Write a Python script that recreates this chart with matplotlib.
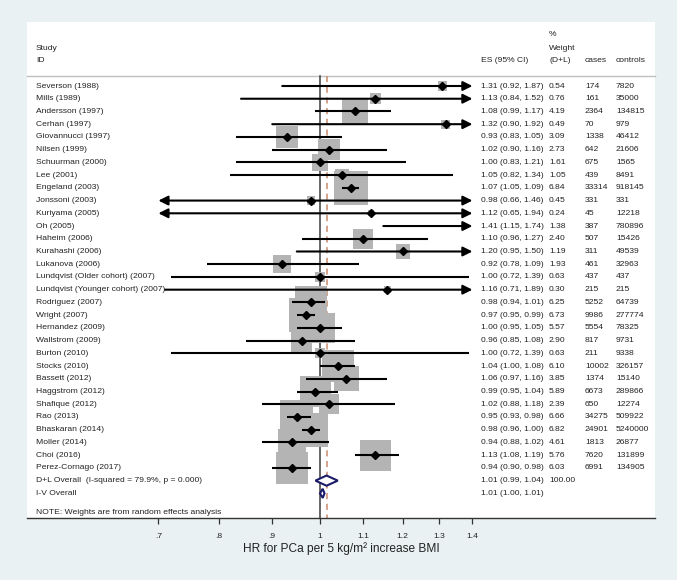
import numpy as np
import matplotlib
matplotlib.use("Agg")
import matplotlib.pyplot as plt
import matplotlib.transforms as mtransforms

# ---------------- data ----------------
studies = ["Severson (1988)", "Mills (1989)", "Andersson (1997)", "Cerhan (1997)",
           "Giovannucci (1997)", "Nilsen (1999)", "Schuurman (2000)", "Lee (2001)",
           "Engeland (2003)", "Jonssoni (2003)", "Kuriyama (2005)", "Oh (2005)",
           "Haheim (2006)", "Kurahashi (2006)", "Lukanova (2006)",
           "Lundqvist (Older cohort) (2007)", "Lundqvist (Younger cohort) (2007)",
           "Rodriguez (2007)", "Wright (2007)", "Hernandez (2009)", "Wallstrom (2009)",
           "Burton (2010)", "Stocks (2010)", "Bassett (2012)", "Haggstrom (2012)",
           "Shafique (2012)", "Rao (2013)", "Bhaskaran (2014)", "Moller (2014)",
           "Choi (2016)", "Perez-Cornago (2017)"]
es = [1.31, 1.13, 1.08, 1.32, 0.93, 1.02, 1.00, 1.05, 1.07, 0.98, 1.12, 1.41, 1.10, 1.20,
      0.92, 1.00, 1.16, 0.98, 0.97, 1.00, 0.96, 1.00, 1.04, 1.06, 0.99, 1.02, 0.95, 0.98,
      0.94, 1.13, 0.94]
lo = [0.92, 0.84, 0.99, 0.90, 0.83, 0.90, 0.83, 0.82, 1.05, 0.66, 0.65, 1.15, 0.96, 0.95,
      0.78, 0.72, 0.71, 0.94, 0.95, 0.95, 0.85, 0.72, 1.00, 0.97, 0.95, 0.88, 0.93, 0.96,
      0.88, 1.08, 0.90]
hi = [1.87, 1.52, 1.17, 1.92, 1.05, 1.16, 1.21, 1.34, 1.09, 1.46, 1.94, 1.74, 1.27, 1.50,
      1.09, 1.39, 1.89, 1.01, 0.99, 1.05, 1.08, 1.39, 1.08, 1.16, 1.04, 1.18, 0.98, 1.00,
      1.02, 1.19, 0.98]
weights = [0.54, 0.76, 4.19, 0.49, 3.09, 2.73, 1.61, 1.05, 6.84, 0.45, 0.24, 1.38, 2.40,
           1.19, 1.93, 0.63, 0.30, 6.25, 6.73, 5.57, 2.90, 0.63, 6.10, 3.85, 5.89, 2.39,
           6.66, 6.82, 4.61, 5.76, 6.03]
cases = [174, 161, 2364, 70, 1338, 642, 675, 439, 33314, 331, 45, 387, 507, 311, 461, 437,
         215, 5252, 9986, 5554, 817, 211, 10002, 1374, 6673, 650, 34275, 24901, 1813, 7620,
         6991]
controls = [7820, 35000, 134815, 979, 46412, 21606, 1565, 8491, 918145, 331, 12218, 780896,
            15426, 49539, 32963, 437, 215, 64739, 277774, 78325, 9731, 9338, 326157, 15140,
            289866, 12274, 509922, 5240000, 26877, 131899, 134905]

overall_labels = ["D+L Overall  (I-squared = 79.9%, p = 0.000)", "I-V Overall"]
overall_es = [1.0145, 1.006]
overall_lo = [0.99, 1.00]
overall_hi = [1.04, 1.01]
overall_weight = ["100.00", ""]

xticks = [0.7, 0.8, 0.9, 1.0, 1.1, 1.2, 1.3, 1.4]
xticklabels = [".7", ".8", ".9", "1", "1.1", "1.2", "1.3", "1.4"]
xmin_clip, xmax_clip = 0.7, 1.4
xlabel = "HR for PCa per 5 kg/m\u00b2 increase BMI"
note = "NOTE: Weights are from random effects analysis"

# ---------------- layout ----------------
W, H = 677, 580
plt.rcParams['font.family'] = ['Liberation Sans', 'DejaVu Sans']
fig = plt.figure(figsize=(W / 100, H / 100), dpi=100)
fig.patch.set_facecolor('#e9f1f3')

L, R, T, B = 27, 655, 22, 518
ax = fig.add_axes([L / W, 1 - B / H, (R - L) / W, (B - T) / H])
ax.set_facecolor('white')

pxu = 453.0   # pixels per log unit
x0px = 320.0  # pixel of x=1
row0, rowh = 86.0, 12.73

def row_of(py):
    return (py - row0) / rowh

ax.set_xscale('log')
ax.set_xlim(np.exp((L - x0px) / pxu), np.exp((R - x0px) / pxu))
ax.set_ylim(row_of(B), row_of(T))

def fx(px):
    return (px - L) / (R - L)

tr = mtransforms.blended_transform_factory(ax.transAxes, ax.transData)
fs = 6.1
tc = '#222222'

# header
hdr_y1, hdr_y2, hdr_y3 = row_of(34), row_of(48), row_of(61)
ax.text(fx(36), hdr_y2, "Study", transform=tr, fontsize=fs, va='center', color=tc)
ax.text(fx(36), hdr_y3, "ID", transform=tr, fontsize=fs, va='center', color=tc)
ax.text(fx(481), hdr_y3, "ES (95% CI)", transform=tr, fontsize=fs, va='center', color=tc)
ax.text(fx(549), hdr_y1, "%", transform=tr, fontsize=fs, va='center', color=tc)
ax.text(fx(549), hdr_y2, "Weight", transform=tr, fontsize=fs, va='center', color=tc)
ax.text(fx(549), hdr_y3, "(D+L)", transform=tr, fontsize=fs, va='center', color=tc)
ax.text(fx(585), hdr_y3, "cases", transform=tr, fontsize=fs, va='center', color=tc)
ax.text(fx(616), hdr_y3, "controls", transform=tr, fontsize=fs, va='center', color=tc)

hline_y = row_of(76)
ax.plot([0, 1], [hline_y, hline_y], transform=tr, color='#bfbfbf', lw=1.0, zorder=1,
        clip_on=False)

n = len(studies)
bottom_row = row_of(B)
# reference lines
ax.plot([1.0, 1.0], [hline_y, bottom_row], color='#3c3c3c', lw=1.1, zorder=1)
ax.plot([overall_es[0]] * 2, [hline_y, bottom_row], color='#c98a6c', lw=1.1,
        ls=(0, (4, 3)), zorder=1)

# boxes
box_x, box_y, box_s = [], [], []
for i in range(n):
    if xmin_clip <= es[i] <= xmax_clip:
        box_x.append(es[i]); box_y.append(i)
        box_s.append((12.9 * 0.72) ** 2 * weights[i])
ax.scatter(box_x, box_y, s=box_s, marker='s', color='#b4b4b4', linewidths=0, zorder=2)

# CI lines with arrows
for i in range(n):
    a = max(lo[i], xmin_clip)
    b = min(hi[i], xmax_clip)
    left_arrow = lo[i] < xmin_clip
    right_arrow = hi[i] > xmax_clip
    if left_arrow and right_arrow:
        style = '<|-|>'
    elif right_arrow:
        style = '-|>'
    elif left_arrow:
        style = '<|-'
    else:
        style = None
    if style is None:
        ax.plot([a, b], [i, i], color='black', lw=1.5, solid_capstyle='butt', zorder=3)
    else:
        ax.annotate('', xy=(b, i), xytext=(a, i),
                    arrowprops=dict(arrowstyle=style, color='black', lw=1.5,
                                    mutation_scale=14, shrinkA=0, shrinkB=0), zorder=3)
    if xmin_clip <= es[i] <= xmax_clip:
        ax.plot([es[i]], [i], marker='D', markersize=3.6, color='black', zorder=4)

# study text
for i in range(n):
    ax.text(fx(36), i, studies[i], transform=tr, fontsize=fs, va='center', color=tc)
    ax.text(fx(481), i, f"{es[i]:.2f} ({lo[i]:.2f}, {hi[i]:.2f})", transform=tr,
            fontsize=fs, va='center', color=tc)
    ax.text(fx(549), i, f"{weights[i]:.2f}", transform=tr, fontsize=fs, va='center', color=tc)
    ax.text(fx(585), i, f"{cases[i]}", transform=tr, fontsize=fs, va='center', color=tc)
    ax.text(fx(616), i, f"{controls[i]}", transform=tr, fontsize=fs, va='center', color=tc)

# overall diamonds
for k in range(2):
    yk = n + k
    h = 0.4 if k == 0 else 0.36
    dx = [overall_lo[k], overall_es[k], overall_hi[k], overall_es[k], overall_lo[k]]
    dy = [yk, yk - h, yk, yk + h, yk]
    ax.fill(dx, dy, facecolor='white', edgecolor='#1c1c6b', lw=1.5, zorder=5)
    ax.text(fx(36), yk, overall_labels[k], transform=tr, fontsize=fs, va='center', color=tc)
    ax.text(fx(481), yk, f"{overall_es[k]:.2f} ({overall_lo[k]:.2f}, {overall_hi[k]:.2f})",
            transform=tr, fontsize=fs, va='center', color=tc)
    if overall_weight[k]:
        ax.text(fx(549), yk, overall_weight[k], transform=tr, fontsize=fs, va='center', color=tc)

ax.text(fx(36), row_of(512), note, transform=tr, fontsize=fs, va='center', color=tc)

# axis styling
for sp in ['top', 'left', 'right']:
    ax.spines[sp].set_visible(False)
ax.spines['bottom'].set_color('#333333')
ax.spines['bottom'].set_linewidth(1.0)
ax.set_yticks([])
ax.set_xticks(xticks)
ax.set_xticklabels(xticklabels)
ax.xaxis.set_minor_locator(matplotlib.ticker.NullLocator())
ax.tick_params(axis='x', direction='out', length=4.5, width=0.9, color='#333333',
               labelsize=6.1, labelcolor=tc, pad=6)
ax.set_xlabel(xlabel, fontsize=8.6, color=tc, labelpad=2)
ax.xaxis.set_label_coords(0.5, -0.049)

fig.savefig("out.png", dpi=100, facecolor=fig.get_facecolor())
